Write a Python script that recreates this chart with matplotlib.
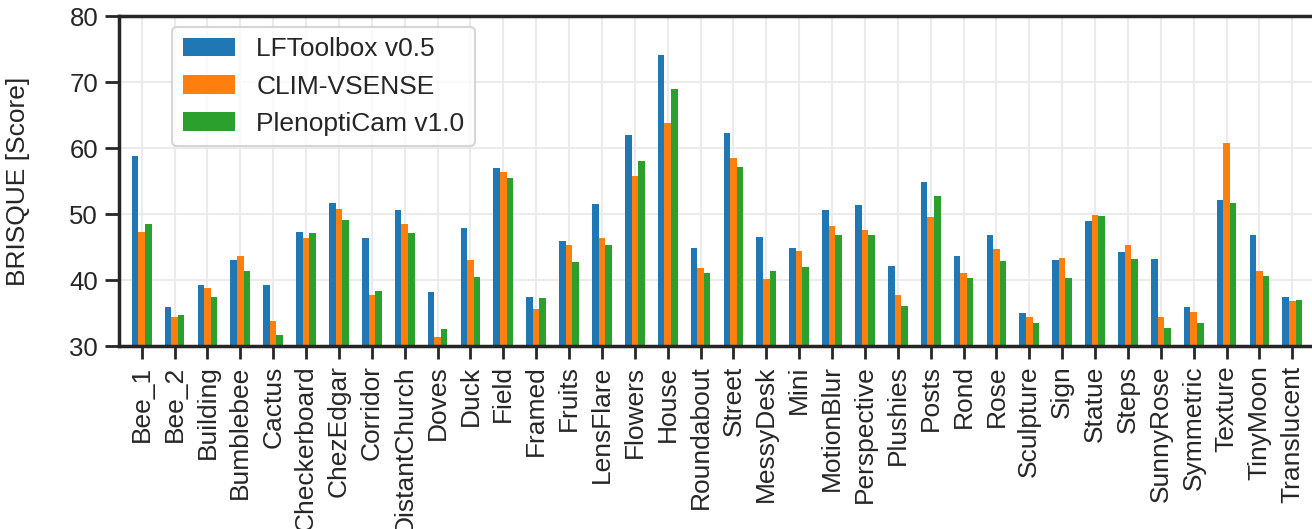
#!/usr/bin/env python3
# Grafico de barras do BRISQUE por cena, comparando tres pipelines de decodificacao.

import numpy as np
import matplotlib
matplotlib.use("Agg")
import matplotlib.pyplot as plt

CENAS = ["Bee_1", "Bee_2", "Building", "Bumblebee", "Cactus", "Checkerboard",
         "ChezEdgar", "Corridor", "DistantChurch", "Doves", "Duck", "Field",
         "Framed", "Fruits", "LensFlare", "Flowers", "House", "Roundabout",
         "Street", "MessyDesk", "Mini", "MotionBlur", "Perspective", "Plushies",
         "Posts", "Rond", "Rose", "Sculpture", "Sign", "Statue", "Steps",
         "SunnyRose", "Symmetric", "Texture", "TinyMoon", "Translucent"]

LFTOOLBOX = [58.8, 35.9, 39.2, 43.0, 39.2, 47.3, 51.7, 46.4, 50.6, 38.2, 47.9, 57.0,
             37.4, 45.9, 51.5, 62.0, 74.1, 44.8, 62.3, 46.5, 44.8, 50.6, 51.4, 42.1,
             54.8, 43.6, 46.8, 35.0, 43.0, 48.9, 44.2, 43.2, 35.9, 52.1, 46.8, 37.4]

CLIM_VSENSE = [47.3, 34.4, 38.8, 43.6, 33.8, 46.4, 50.8, 37.7, 48.5, 31.4, 43.0, 56.4,
               35.6, 45.3, 46.4, 55.8, 63.8, 41.8, 58.5, 40.2, 44.4, 48.2, 47.6, 37.7,
               49.5, 41.1, 44.7, 34.4, 43.3, 49.8, 45.3, 34.4, 35.2, 60.8, 41.4, 36.8]

PLENOPTICAM = [48.5, 34.7, 37.4, 41.4, 31.7, 47.1, 49.1, 38.3, 47.1, 32.6, 40.5, 55.5,
               37.3, 42.7, 45.3, 58.0, 68.9, 41.1, 57.1, 41.4, 42.0, 46.8, 46.8, 36.1,
               52.7, 40.3, 42.9, 33.5, 40.3, 49.7, 43.2, 32.7, 33.5, 51.7, 40.6, 37.0]

SERIES = [("LFToolbox v0.5", LFTOOLBOX, "#1f77b4"),
          ("CLIM-VSENSE", CLIM_VSENSE, "#ff7f0e"),
          ("PlenoptiCam v1.0", PLENOPTICAM, "#2ca02c")]

plt.rcParams.update({
    "font.family": ["Liberation Sans", "DejaVu Sans"],
    "text.color": "#262626",
    "axes.labelcolor": "#262626",
    "xtick.color": "#262626",
    "ytick.color": "#262626",
})

fig = plt.figure(figsize=(13.12, 5.29), dpi=100)
ax = fig.add_axes([119 / 1312, 1 - 346 / 529, 1196 / 1312, 330 / 529])

x = np.arange(len(CENAS))
larg = 0.2
for i, (nome, vals, cor) in enumerate(SERIES):
    ax.bar(x + (i - 1) * larg, vals, width=larg, color=cor, label=nome, zorder=2)

ax.set_xlim(-0.69, len(CENAS) - 1 + 0.69)
ax.set_ylim(30, 80)
ax.set_yticks(range(30, 81, 10))
ax.set_xticks(x)
ax.set_xticklabels(CENAS, rotation=90, fontsize=19)
ax.tick_params(axis="y", labelsize=18.5, length=10, width=2, pad=5)
ax.tick_params(axis="x", length=9, width=2, pad=5)
ax.set_ylabel("BRISQUE [Score]", fontsize=19)
ax.yaxis.set_label_coords(-0.0744, 0.5)

ax.grid(True, color="#ebebeb", linewidth=1.5, zorder=0)
ax.set_axisbelow(True)
for lado in ax.spines.values():
    lado.set_linewidth(2.5)
    lado.set_color("#262626")

leg = ax.legend(loc="upper left", bbox_to_anchor=(0.0443, 0.967), borderaxespad=0,
                fontsize=19, handlelength=2.0, handletextpad=0.8, borderpad=0.4,
                labelspacing=0.5, framealpha=0.8, edgecolor="#cccccc")
leg.get_frame().set_linewidth(1.5)

fig.savefig("out.png", dpi=100)
